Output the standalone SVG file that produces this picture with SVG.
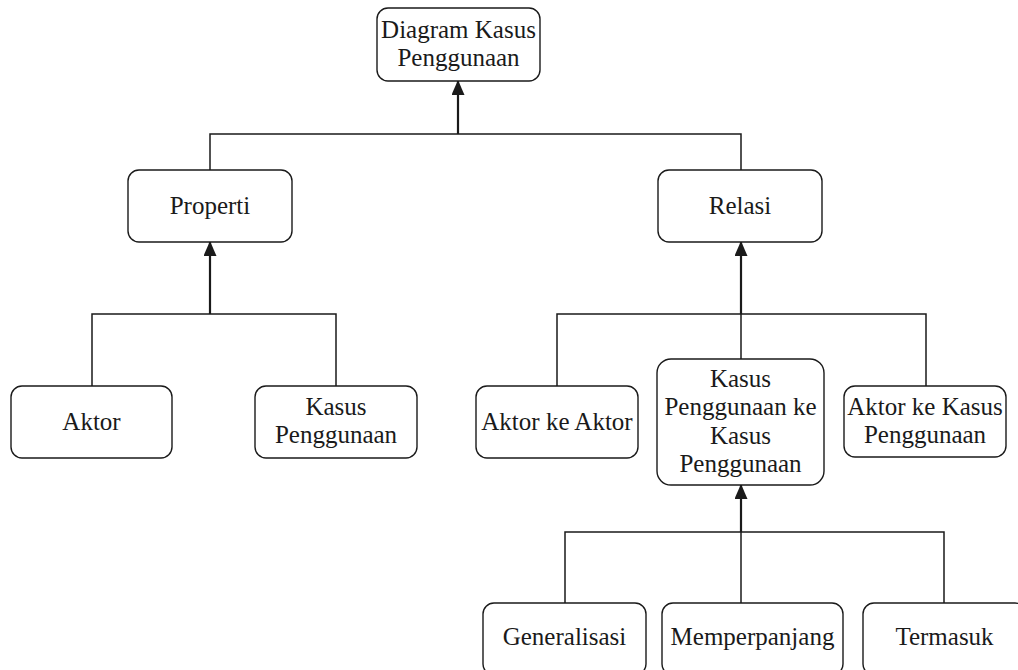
<svg xmlns="http://www.w3.org/2000/svg" width="1018" height="670" viewBox="0 0 1018 670">
  <style>
    .box { fill: #ffffff; stroke: #1a1a1a; stroke-width: 1.4; }
    .lbl { font-family: 'Liberation Serif', 'Times New Roman', serif; font-size: 25px; fill: #1a1a1a; text-anchor: middle; }
    .edge { fill: none; stroke: #1a1a1a; stroke-width: 1.5; }
    .trunk { fill: none; stroke: #1a1a1a; stroke-width: 2.2; }
  </style>
  <defs>
    <marker id="block" viewBox="0 0 15 13" refX="14" refY="6.5" markerWidth="15" markerHeight="13" markerUnits="userSpaceOnUse" orient="auto">
      <path d="M0,0 L15,6.5 L0,13 z" fill="#1a1a1a"/>
    </marker>
  </defs>

  <rect width="1018" height="670" fill="#ffffff"/>

  <!-- connectors: children feed into a shared trunk that ends on the parent -->
  <g id="connectors">
    <!-- Properti / Relasi -> Diagram Kasus Penggunaan -->
    <path class="edge" d="M210,170 V134 H741 V170"/>
    <path class="trunk" d="M458,134 V81" marker-end="url(#block)"/>

    <!-- Aktor / Kasus Penggunaan -> Properti -->
    <path class="edge" d="M92,386 V314 H336 V386"/>
    <path class="trunk" d="M210,314 V242" marker-end="url(#block)"/>

    <!-- Relasi children -->
    <path class="edge" d="M557,386 V314 H926 V386"/>
    <path class="edge" d="M741,359 V314"/>
    <path class="trunk" d="M741,314 V242" marker-end="url(#block)"/>

    <!-- Generalisasi / Memperpanjang / Termasuk -> Kasus Penggunaan ke Kasus Penggunaan -->
    <path class="edge" d="M565,603 V532 H944 V603"/>
    <path class="edge" d="M741,603 V532"/>
    <path class="trunk" d="M741,532 V485" marker-end="url(#block)"/>
  </g>

  <g id="node-root">
    <rect class="box" x="377" y="8" width="163" height="73" rx="11"/>
    <text class="lbl" x="458.5" y="38">Diagram Kasus</text>
    <text class="lbl" x="458.5" y="66">Penggunaan</text>
  </g>

  <g id="node-properti">
    <rect class="box" x="128" y="170" width="164" height="72" rx="11"/>
    <text class="lbl" x="210" y="214">Properti</text>
  </g>

  <g id="node-relasi">
    <rect class="box" x="658" y="170" width="164" height="72" rx="11"/>
    <text class="lbl" x="740" y="214">Relasi</text>
  </g>

  <g id="node-aktor">
    <rect class="box" x="11" y="386" width="161" height="72" rx="11"/>
    <text class="lbl" x="91.5" y="430">Aktor</text>
  </g>

  <g id="node-kasus">
    <rect class="box" x="255" y="386" width="162" height="72" rx="11"/>
    <text class="lbl" x="336" y="415">Kasus</text>
    <text class="lbl" x="336" y="443">Penggunaan</text>
  </g>

  <g id="node-aktor-aktor">
    <rect class="box" x="476" y="386" width="162" height="72" rx="11"/>
    <text class="lbl" x="557" y="430">Aktor ke Aktor</text>
  </g>

  <g id="node-kasus-kasus">
    <rect class="box" x="657" y="359" width="167" height="126" rx="14"/>
    <text class="lbl" x="740.5" y="386.5">Kasus</text>
    <text class="lbl" x="740.5" y="415">Penggunaan ke</text>
    <text class="lbl" x="740.5" y="443.5">Kasus</text>
    <text class="lbl" x="740.5" y="472">Penggunaan</text>
  </g>

  <g id="node-aktor-kasus">
    <rect class="box" x="844" y="386" width="162" height="71" rx="11"/>
    <text class="lbl" x="925" y="415">Aktor ke Kasus</text>
    <text class="lbl" x="925" y="443">Penggunaan</text>
  </g>

  <g id="node-generalisasi">
    <rect class="box" x="483" y="603" width="163" height="72" rx="11"/>
    <text class="lbl" x="564.5" y="645">Generalisasi</text>
  </g>

  <g id="node-memperpanjang">
    <rect class="box" x="662" y="603" width="181" height="72" rx="11"/>
    <text class="lbl" x="752.5" y="645">Memperpanjang</text>
  </g>

  <g id="node-termasuk">
    <rect class="box" x="863" y="603" width="163" height="72" rx="11"/>
    <text class="lbl" x="944.5" y="645">Termasuk</text>
  </g>
</svg>
